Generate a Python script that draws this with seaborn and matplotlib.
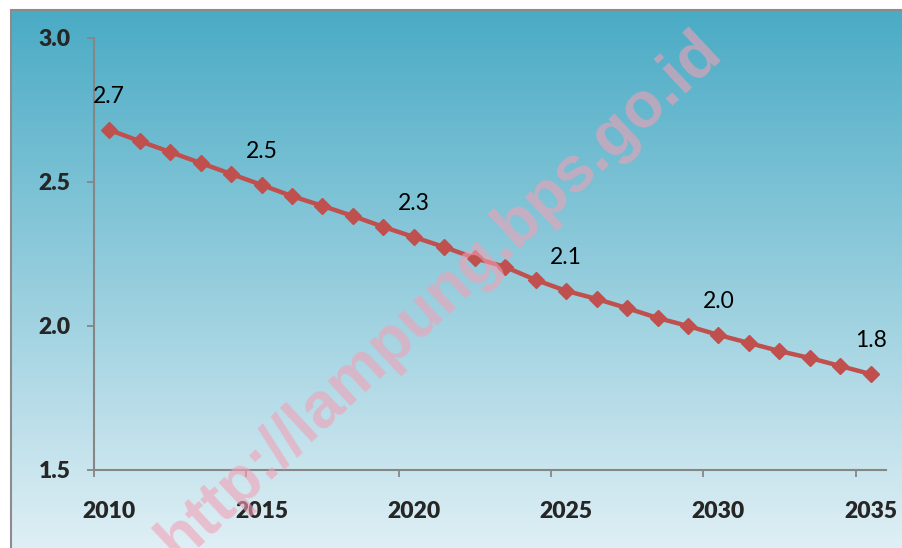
import numpy as np
import pandas as pd
import matplotlib
matplotlib.use("Agg")
import matplotlib.pyplot as plt
import seaborn as sns
from matplotlib.patches import Rectangle

# data
years = list(range(2010, 2036))
values = [2.681, 2.642, 2.604, 2.566, 2.528, 2.490, 2.451, 2.417, 2.382, 2.344,
          2.309, 2.274, 2.236, 2.205, 2.160, 2.122, 2.094, 2.062, 2.028, 2.000,
          1.969, 1.941, 1.913, 1.889, 1.861, 1.833]
label_years = [2010, 2015, 2020, 2025, 2030, 2035]
y_ticks = [1.5, 2.0, 2.5, 3.0]

df = pd.DataFrame({"year": years, "value": values})

sns.set_style("white")
plt.rcParams["font.family"] = ["Lato", "DejaVu Sans"]

fig = plt.figure(figsize=(9.02, 5.48), dpi=100)
W, H = 902, 548

# gradient background panel
bg = fig.add_axes([11 / W, 0, 1 - 11 / W, 1 - 10 / H], zorder=0)
top = np.array([74, 171, 197]) / 255
bot = np.array([223, 239, 245]) / 255
t = np.linspace(0, 1, 256)[:, None]
grad = (top[None, :] * (1 - t) + bot[None, :] * t)[:, None, :]
bg.imshow(grad, aspect="auto", extent=[0, 1, 0, 1], origin="upper")
bg.set_axis_off()
fig.add_artist(Rectangle((11 / W, -0.1), 1.2, 1.1 - 10 / H, transform=fig.transFigure,
                         fill=False, edgecolor="#8c8c8c", linewidth=1.5, zorder=1))

ax = fig.add_axes([94 / W, (H - 470) / H, (886 - 94) / W, 432 / H], zorder=2)
ax.patch.set_alpha(0)

sns.lineplot(data=df, x="year", y="value", ax=ax, color="#C0504D", linewidth=3.2,
             marker="D", markersize=8.5, markeredgecolor="#C0504D", markeredgewidth=1)

for yr in label_years:
    v = values[years.index(yr)]
    ax.annotate(f"{v:.1f}", (yr, v), xytext=(0, 24), textcoords="offset points",
                ha="center", va="center", fontsize=16.5, color="black")

ax.set_xlim(2009.5, 2035.5)
ax.set_ylim(1.5, 3.0)
ax.set_xticks([y - 0.5 for y in label_years])
ax.set_xticklabels([])
ax.set_xticks(label_years, minor=True)
ax.set_xticklabels([str(y) for y in label_years], minor=True, fontweight="heavy", fontsize=16.5)
ax.tick_params(axis="x", which="major", bottom=True, length=5, color="#868686", width=1.3,
               direction="out")
ax.tick_params(axis="x", which="minor", bottom=True, length=0, pad=22)
ax.set_yticks(y_ticks)
ax.set_yticklabels([f"{y:.1f}" for y in y_ticks], fontweight="heavy", fontsize=16.5)
ax.tick_params(axis="y", left=True, length=5, color="#868686", width=1.3, direction="out", pad=12)
ax.set_xlabel("")
ax.set_ylabel("")
sns.despine(ax=ax)
for s in ["left", "bottom"]:
    ax.spines[s].set_color("#868686")
    ax.spines[s].set_linewidth(1.5)

# watermark
fig.text(440 / W, 1 - 296 / H, "http://lampung.bps.go.id", rotation=43, fontsize=46,
         fontweight="bold", color="#F2A0B5", alpha=0.6, ha="center", va="center",
         family=["Liberation Sans", "DejaVu Sans"], zorder=5)

fig.savefig("out.png", dpi=100)
